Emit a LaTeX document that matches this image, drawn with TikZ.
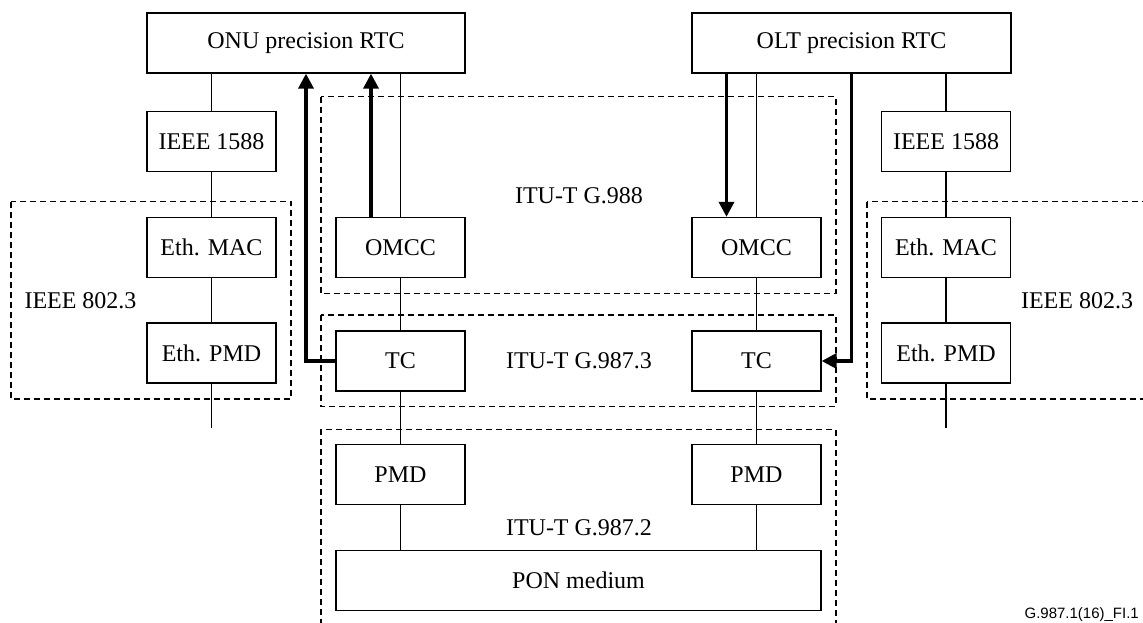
\documentclass[tikz,border=0pt]{standalone}
\usepackage{fontspec}
\setmainfont{Liberation Serif}
\setsansfont{Liberation Sans}
\usetikzlibrary{arrows.meta,calc}
\begin{document}
\begin{tikzpicture}[x=1pt,y=-1pt,
  box/.style={draw,line width=1.3pt,inner sep=0pt,minimum height=60pt,font=\fontsize{24}{28}\selectfont},
  sbox/.style={box,minimum width=129pt},
  zone/.style={draw,line width=1.3pt,dash pattern=on 6pt off 4pt},
  lbl/.style={font=\fontsize{24}{28}\selectfont,inner sep=0pt},
  conn/.style={line width=1.2pt},
  thk/.style={line width=3.5pt,-{Triangle[length=15pt,width=15pt]}}]
\useasboundingbox (0,0) rectangle (1143,623);

% dashed zones
\draw[zone] (11,201.7) rectangle (291,399);
\draw[zone] (321,96.7) rectangle (836,293.3);
\draw[zone] (321,315) rectangle (836,406.7);
\draw[zone] (321,429.3) rectangle (836,650);
\draw[zone] (867,201.7) rectangle (1170,399);

% zone labels
\node[lbl] (l8023L) at (80.5,301) {IEEE 802.3};
\node[lbl] (l8023R) at (1077,301) {IEEE 802.3};
\node[lbl] (lg988) at (579,196) {ITU-T G.988};
\node[lbl] (lg9873) at (579,361) {ITU-T G.987.3};
\node[lbl] (lg9872) at (579,528) {ITU-T G.987.2};

% boxes
\node[box,minimum width=318pt] (onurtc) at (306,43) {ONU precision RTC};
\node[box,minimum width=319pt] (oltrtc) at (851.5,43) {OLT precision RTC};
\node[sbox] (ieeeL) at (211.5,141.5) {IEEE 1588};
\node[sbox] (macL) at (211.5,247.5) {Eth. MAC};
\node[sbox] (pmdethL) at (211.5,353) {Eth. PMD};
\node[sbox] (omccL) at (400.5,247.5) {OMCC};
\node[sbox] (tcL) at (400.5,361) {TC};
\node[sbox] (pmdL) at (400.5,474.5) {PMD};
\node[sbox] (ieeeR) at (946,141.5) {IEEE 1588};
\node[sbox] (macR) at (946,247.5) {Eth. MAC};
\node[sbox] (pmdethR) at (946,353) {Eth. PMD};
\node[sbox] (omccR) at (756.5,247.5) {OMCC};
\node[sbox] (tcR) at (756.5,361) {TC};
\node[sbox] (pmdR) at (756.5,474.5) {PMD};
\node[box,minimum width=485pt] (pon) at (578.5,580.5) {PON medium};

\node[font=\sffamily\fontsize{15}{18}\selectfont,anchor=base east,inner sep=0pt] (fig) at (1139,618.5) {G.987.1(16)\_FI.1};

% thin connectors left
\draw[conn] (onurtc.south -| ieeeL.north) -- (ieeeL.north);
\draw[conn] (ieeeL) -- (macL);
\draw[conn] (macL) -- (pmdethL);
\coordinate (endL) at (211.5,428);
\draw[conn] (pmdethL) -- (endL);
\draw[conn] (onurtc.south -| omccL.north) -- (omccL.north);
\draw[conn] (omccL) -- (tcL);
\draw[conn] (tcL) -- (pmdL);
\draw[conn] (pmdL.south) -- (pmdL.south |- pon.north);

% thin connectors right
\draw[conn] (oltrtc.south -| ieeeR.north) -- (ieeeR.north);
\draw[conn] (ieeeR) -- (macR);
\draw[conn] (macR) -- (pmdethR);
\coordinate (endR) at (946,428);
\draw[conn] (pmdethR) -- (endR);
\draw[conn] (oltrtc.south -| omccR.north) -- (omccR.north);
\draw[conn] (omccR) -- (tcR);
\draw[conn] (tcR) -- (pmdR);
\draw[conn] (pmdR.south) -- (pmdR.south |- pon.north);

% thick arrows
\coordinate (aL) at ($(omccL.north)+(-29.5,0)$);
\draw[thk] (aL) -- (aL |- onurtc.south);
\draw[thk] (tcL.west) -| (onurtc.south);
\coordinate (aR) at ($(omccR.north)+(-30,0)$);
\draw[thk] (aR |- oltrtc.south) -- (aR);
\draw[thk] (oltrtc.south) |- (tcR.east);
\end{tikzpicture}
\end{document}
